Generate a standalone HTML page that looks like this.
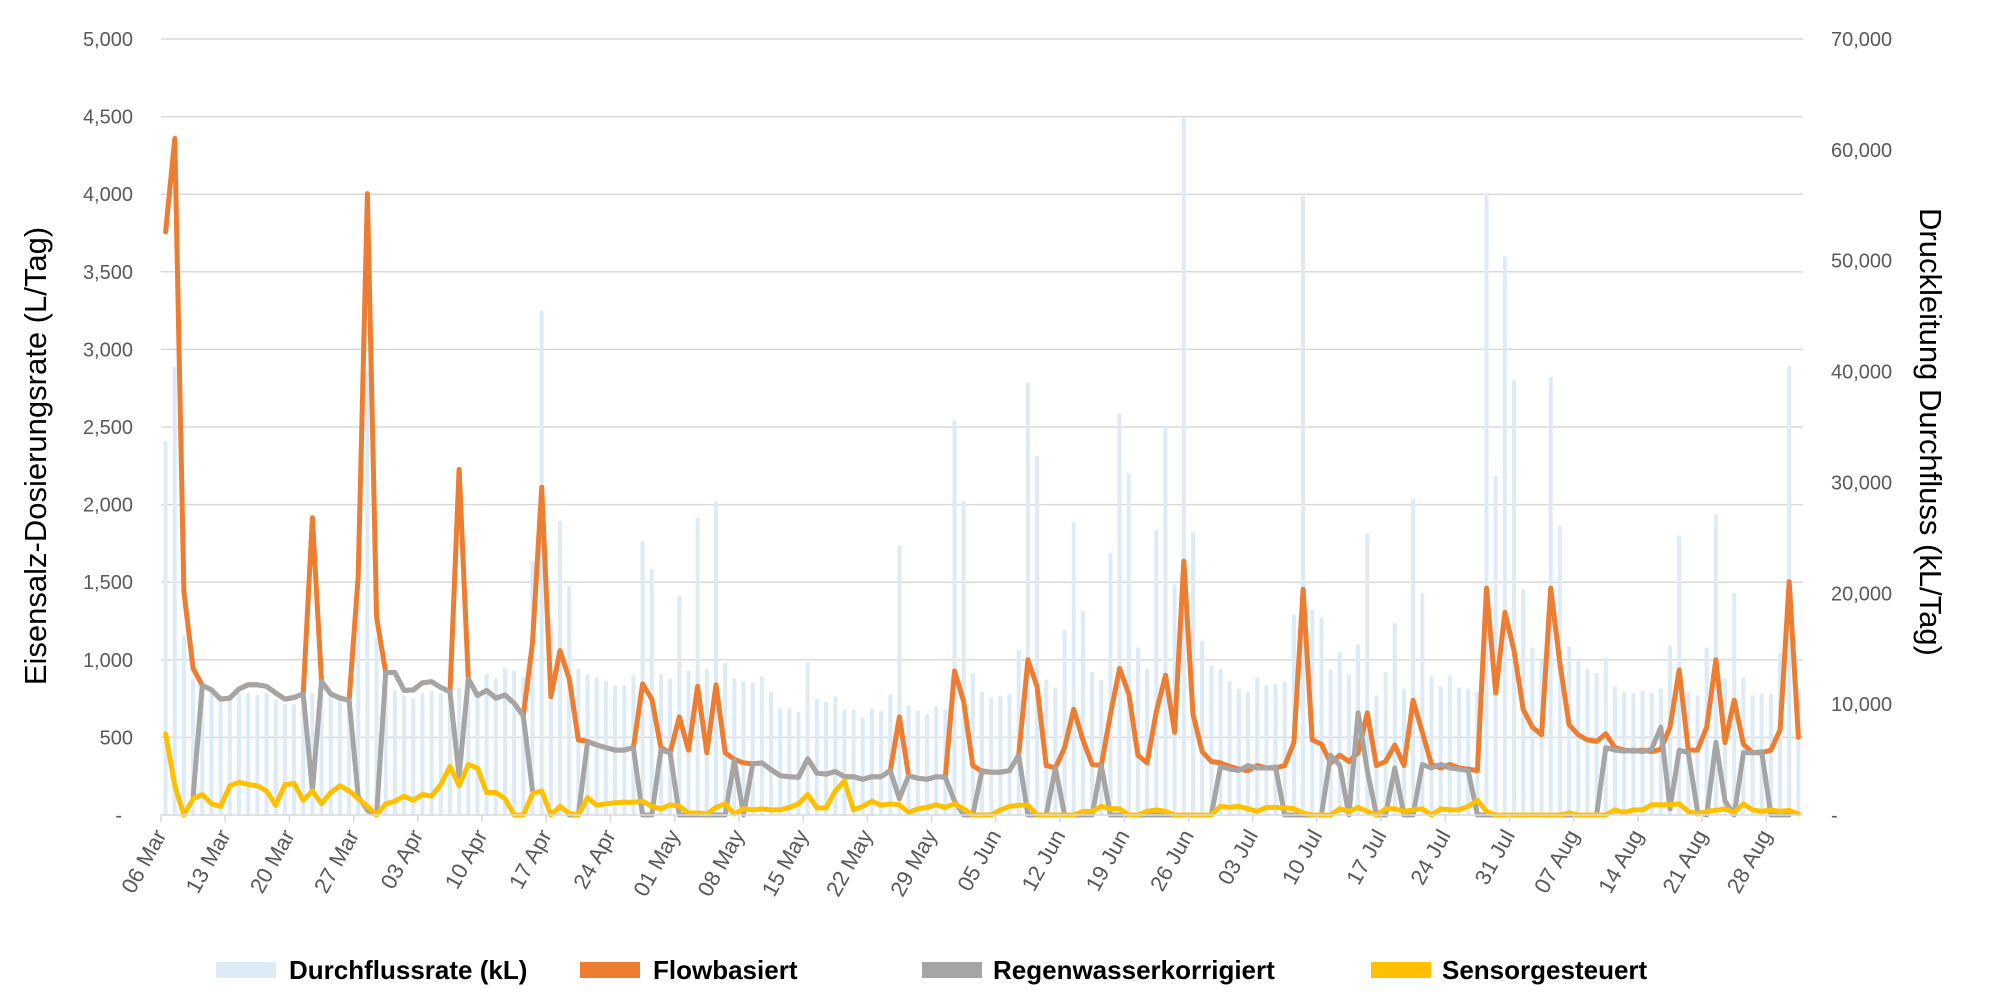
<!DOCTYPE html>
<html><head><meta charset="utf-8"><style>
html,body{margin:0;padding:0;background:#fff;}
svg{display:block;font-family:"Liberation Sans",sans-serif;}
</style></head><body>
<svg id="chart" width="2000" height="1000" viewBox="0 0 2000 1000" xmlns="http://www.w3.org/2000/svg">
<g id="grid"></g>
<g id="bars"></g>
<g id="lines"></g>
<g id="axes"></g>
<text transform="translate(46,456) rotate(-90)" text-anchor="middle" font-size="31" fill="#000">Eisensalz-Dosierungsrate (L/Tag)</text>
<text transform="translate(1920,432) rotate(90)" text-anchor="middle" font-size="31" fill="#000">Druckleitung Durchfluss (kL/Tag)</text>
<g font-size="26" font-weight="bold" fill="#000">
<g><rect x="216" y="962" width="60" height="16" fill="#ddebf7"/><text x="289" y="979">Durchflussrate (kL)</text></g>
<g><rect x="580" y="962" width="60" height="16" fill="#ed7d31"/><text x="653" y="979">Flowbasiert</text></g>
<g><rect x="922" y="962" width="60" height="16" fill="#a5a5a5"/><text x="993" y="979">Regenwasserkorrigiert</text></g>
<g><rect x="1371" y="962" width="60" height="16" fill="#ffc000"/><text x="1442" y="979">Sensorgesteuert</text></g>
</g>
</svg>
<script>
const leftTicks=[0,500,1000,1500,2000,2500,3000,3500,4000,4500,5000];
const leftTickLabels=["-","500","1,000","1,500","2,000","2,500","3,000","3,500","4,000","4,500","5,000"];
const rightTicks=[0,10000,20000,30000,40000,50000,60000,70000];
const rightTickLabels=["-","10,000","20,000","30,000","40,000","50,000","60,000","70,000"];
const xTickLabels=["06 Mar","13 Mar","20 Mar","27 Mar","03 Apr","10 Apr","17 Apr","24 Apr","01 May","08 May","15 May","22 May","29 May","05 Jun","12 Jun","19 Jun","26 Jun","03 Jul","10 Jul","17 Jul","24 Jul","31 Jul","07 Aug","14 Aug","21 Aug","28 Aug"];
const durchfluss=[33700,40400,16200,12300,11300,11300,10600,10400,11000,11000,10800,11000,10400,10000,10000,10800,11000,11500,10800,10800,10500,19000,40000,16000,11800,11200,10800,10500,11000,11200,11000,10800,11500,12000,11000,12700,12300,13300,13000,12400,22900,45500,17800,26500,20700,
13200,12700,12400,12100,11700,11700,12600,24700,22200,12700,12300,19800,13000,26800,13200,28300,13700,12300,12100,11900,12500,11100,9600,9600,9300,13800,10500,10200,10700,9500,9500,8800,9600,9400,10900,24300,9900,9400,9100,9800,9500,35600,28300,12800,
11100,10600,10700,10900,14900,39000,32400,12200,11500,16700,26400,18400,12900,12200,23600,36200,30800,15100,13200,25700,35000,20800,62900,25500,15700,13500,13200,12100,11400,11100,12400,11700,11800,12000,18100,56100,18500,17800,13100,14700,12700,15400,25400,10800,12900,
17300,11400,28500,20000,12500,11600,12600,11500,11400,11100,56100,30600,50400,39200,20400,15100,13900,39500,26100,15200,13900,13200,12800,14200,11600,11100,11000,11200,11000,11400,15300,25200,11100,10800,15100,27100,12400,20000,12400,10800,10900,10900,14600,40500,11400];
const flowbasiert=[3757,4359,1438,944,836,806,747,753,812,839,839,829,786,747,757,780,1915,862,780,753,740,1536,4004,1273,918,918,803,806,852,859,822,793,2227,878,770,803,753,773,720,638,1109,2112,763,1059,878,
484,474,451,434,418,418,434,845,747,434,401,632,418,829,401,839,401,359,336,329,336,293,253,247,243,362,270,263,280,247,247,230,247,247,286,632,253,237,230,247,243,928,730,319,
280,276,276,286,385,1000,829,319,303,434,681,484,326,319,648,944,780,385,336,665,901,533,1635,648,408,345,336,313,296,286,319,303,303,319,467,1454,484,457,336,385,345,401,658,319,345,
451,319,740,533,326,303,326,303,296,286,1461,786,1306,1059,681,566,517,1461,977,582,517,484,474,523,434,418,411,418,408,424,566,934,418,418,566,1000,467,740,457,401,401,418,549,1503,500];
const regenwasser=[null,null,null,120,836,806,747,753,812,839,839,829,786,747,757,780,155,862,780,753,740,120,30,0,918,918,803,806,852,859,822,793,247,878,770,803,753,773,720,638,155,null,null,null,0,
0,474,451,434,418,418,434,0,0,418,401,0,0,0,0,0,0,352,0,329,336,293,253,247,243,362,270,263,280,247,247,230,247,247,286,105,253,237,230,247,243,89,0,0,
286,276,276,286,385,0,0,0,303,0,0,0,0,319,0,0,0,0,0,0,0,0,0,0,0,0,313,296,286,319,303,303,309,0,0,0,0,0,385,319,0,658,286,0,
0,303,0,0,326,303,326,303,296,286,0,0,0,0,0,0,0,0,0,0,0,0,0,0,434,418,411,418,408,424,566,40,418,401,23,0,467,90,0,401,401,408,0,0,0];
const sensor=[523,188,0,105,132,72,56,188,211,197,188,155,63,194,204,95,155,72,145,188,155,105,56,0,72,89,122,95,132,122,197,313,188,326,303,145,145,105,0,0,138,155,0,56,10,
0,112,63,72,79,82,82,89,56,40,66,56,13,13,7,49,72,7,40,33,40,33,33,49,72,132,46,46,155,220,33,56,89,63,72,66,16,40,49,66,49,72,40,0,
0,0,33,56,63,63,0,0,0,0,0,23,23,56,40,40,0,0,23,33,23,0,0,0,0,0,56,49,56,40,23,49,49,46,40,13,0,0,0,40,23,49,23,0,40,
40,23,33,40,0,40,33,33,56,95,23,0,0,0,0,0,0,0,0,13,0,0,0,0,33,16,33,33,66,66,66,72,23,7,23,30,40,16,72,33,23,33,23,30,7];

const NS="http://www.w3.org/2000/svg";
const X0=161, X1=1803, Y0=815, Y1=39, PX=(X1-X0)/179;
const xPos=i=>X0+PX*(i+0.5);
const yL=v=>Y0-(v/5000)*(Y0-Y1);
const yR=v=>Y0-(v/70000)*(Y0-Y1);
function mk(tag,attrs,parent){const e=document.createElementNS(NS,tag);for(const k in attrs)e.setAttribute(k,attrs[k]);parent.appendChild(e);return e;}
const grid=document.getElementById('grid'),bars=document.getElementById('bars'),lines=document.getElementById('lines'),axes=document.getElementById('axes');

leftTicks.forEach((v,k)=>{
  if(v>0){const g=mk('line',{x1:X0,x2:X1,y1:yL(v),y2:yL(v),stroke:'#d9d9d9','stroke-width':1.5},grid);
  
  }
  const t=mk('text',{x:v===0?122:133,y:yL(v)+7,'text-anchor':'end','font-size':20,fill:'#595959'},axes);
  t.textContent=leftTickLabels[k];
  
  
});
rightTicks.forEach((v,k)=>{
  const t=mk('text',{x:1831,y:yR(v)+7,'font-size':20,fill:'#595959'},axes);
  t.textContent=rightTickLabels[k];
  
  
});
durchfluss.forEach((v,i)=>{
  const r=mk('rect',{x:xPos(i)-2,y:yR(v),width:4,height:Y0-yR(v),fill:'#ddebf7'},bars);
  
  
});
function series(arr,color,name){
  let d='',pen=false;
  arr.forEach((v,i)=>{if(v===null){pen=false;return;}d+=(pen?'L':'M')+xPos(i).toFixed(1)+','+yL(v).toFixed(1);pen=true;});
  const p=mk('path',{d:d,fill:'none',stroke:color,'stroke-width':5,'stroke-linejoin':'round','stroke-linecap':'round'},lines);
  
  
}
series(flowbasiert,'#ed7d31','flowbasiert-line');
series(regenwasser,'#a5a5a5','regenwasserkorrigiert-line');
series(sensor,'#ffc000','sensorgesteuert-line');
const ax=mk('line',{x1:X0,x2:X1,y1:Y0,y2:Y0,stroke:'#d9d9d9','stroke-width':1.5},axes);


xTickLabels.forEach((s,k)=>{
  const x=X0+7*k*PX;
  const tk=mk('line',{x1:x,x2:x,y1:Y0,y2:Y0+7,stroke:'#d9d9d9','stroke-width':1.5},axes);
  
  
  const t=mk('text',{transform:`translate(${x+6},835) rotate(-61)`,'text-anchor':'end','font-size':22,fill:'#595959'},axes);
  t.textContent=s;
  
  
});
</script>
</body></html>
